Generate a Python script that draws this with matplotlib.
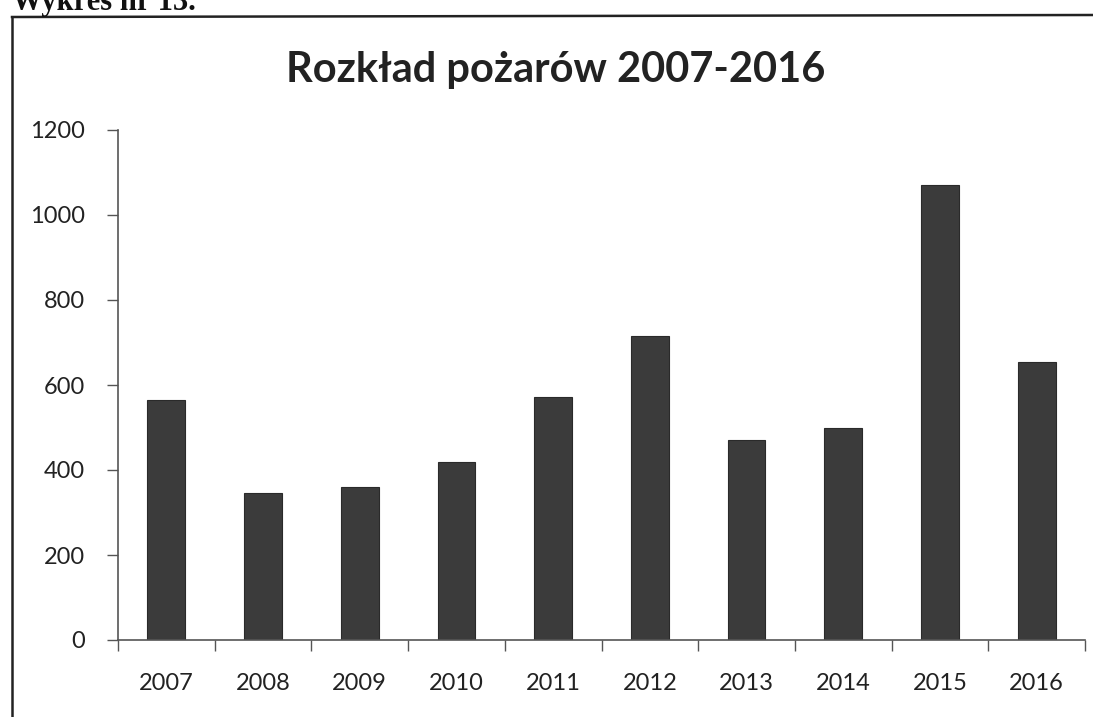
import matplotlib
matplotlib.use("Agg")
import matplotlib.pyplot as plt
from matplotlib.lines import Line2D
import numpy as np

years = ["2007", "2008", "2009", "2010", "2011", "2012", "2013", "2014", "2015", "2016"]
fires = [565, 345, 360, 420, 572, 715, 470, 500, 1070, 655]
yticks = [0, 200, 400, 600, 800, 1000, 1200]

plt.rcParams['font.family'] = ['Lato', 'DejaVu Sans']

W, H = 1093, 717
fig = plt.figure(figsize=(W / 100, H / 100), dpi=100)
fig.patch.set_facecolor('white')

ax = fig.add_axes([118 / W, (H - 640) / H, (1085 - 118) / W, (640 - 130) / H])
x = np.arange(len(years))
ax.bar(x, fires, width=0.39, color='#3b3b3b', edgecolor='#2a2a2a', linewidth=0.8)

ax.set_xlim(-0.5, len(years) - 0.5)
ax.set_ylim(0, 1200)
ax.set_yticks(yticks)
ax.set_yticklabels([str(v) for v in yticks], fontsize=17, color='#222222')
ax.set_xticks(x)
ax.set_xticklabels(years, fontsize=17, color='#222222')
ax.tick_params(axis='x', length=0, pad=24)
ax.set_xticks(np.arange(-0.5, len(years)), minor=True)
ax.tick_params(axis='x', which='minor', length=8, width=1, color='#555555', direction='out')
ax.tick_params(axis='y', length=8, width=1, color='#555555', direction='out', pad=16)

for s in ['top', 'right']:
    ax.spines[s].set_visible(False)
ax.spines['left'].set_color('#555555')
ax.spines['bottom'].set_color('#555555')
ax.spines['left'].set_linewidth(1.2)
ax.spines['bottom'].set_linewidth(1.2)

fig.text(556 / W, (H - 70) / H, "Rozkład pożarów 2007-2016", ha='center', va='center',
         fontsize=30, fontweight='bold', color='#222222')

# frame of the chart object
fig.add_artist(Line2D([12 / W, 12 / W], [(H - 17) / H, 0], transform=fig.transFigure,
                      color='#222222', linewidth=1.8))
fig.add_artist(Line2D([12 / W, 1], [(H - 17) / H, (H - 15) / H], transform=fig.transFigure,
                      color='#222222', linewidth=1.8))

fig.text(12 / W, (H - 10) / H, "Wykres nr 13.", ha='left', va='baseline',
         fontsize=22, fontweight='bold', family=['Liberation Serif', 'DejaVu Serif'],
         color='#111111')

fig.savefig("out.png", dpi=100)
